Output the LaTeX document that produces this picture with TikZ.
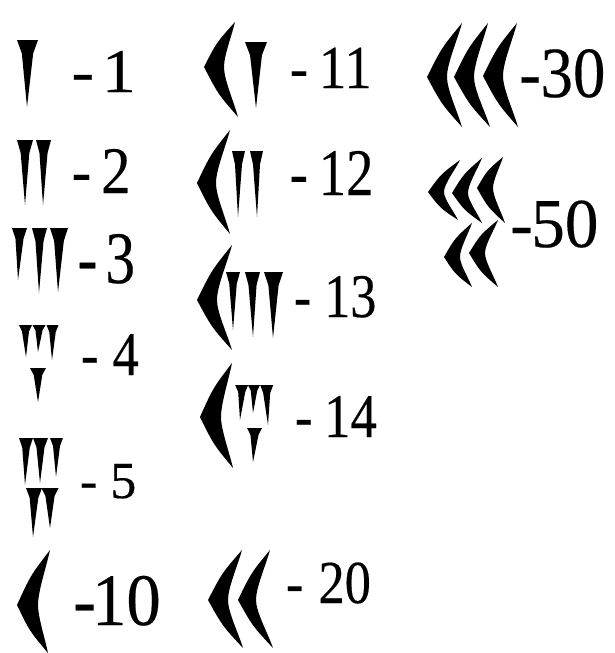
\documentclass[tikz,border=0pt]{standalone}
\usepackage{graphicx}
\usepackage{fontspec}
\setmainfont{Liberation Serif}[FakeBold=0.3]
% vertical wedge: top centre x, top y, width, tip x, tip y
\newcommand\cunV[5]{\fill ({#1-#3/2},#2) -- ({#1+#3/2},#2) -- ({#1+0.27*#3},{#2+0.2*(#5-#2)}) -- (#4,#5) -- ({#1-0.27*#3},{#2+0.2*(#5-#2)}) -- cycle;}
% corner wedge: left point (1,2), top tip (3,4), bottom tip (5,6), thickness 7
\newcommand\cunC[7]{\fill (#1,#2)
  .. controls ({(#1+#3)/2-3},{(#2+#4)/2-2}) .. (#3,#4)
  .. controls ({#3+0.33*(#1+#7-#3)},{#4+0.33*(#2-#4)}) and ({#1+#7},{#2-0.25*(#2-#4)}) .. ({#1+#7},#2)
  .. controls ({#1+#7},{#2+0.25*(#6-#2)}) and ({#5+0.33*(#1+#7-#5)},{#6-0.33*(#6-#2)}) .. (#5,#6)
  .. controls ({(#1+#5)/2-3},{(#2+#6)/2+2}) .. (#1,#2) -- cycle;}
% label: name, x, baseline, size, gap, xscale, number
\newcommand\numlab[7]{\node[lbl] (#1) at (#2,#3) {\scalebox{#6}[1]{\fontsize{#4}{#4}\selectfont -\hspace{#5pt}#7}};}
\begin{document}
\begin{tikzpicture}[x=1pt,y=-1pt,
  lbl/.style={anchor=base west,inner sep=0pt,outer sep=0pt,text=black}]
\fill[white] (0,0) rectangle (615,653);
\useasboundingbox (0,0) rectangle (615,653);
% 1
\cunV{27.5}{40}{21}{27}{107}
% 2
\cunV{25}{140}{16}{25}{205}
\cunV{43.5}{140}{15}{43}{205}
% 3
\cunV{19.5}{228}{15}{18}{280}
\cunV{39.5}{228}{15}{39}{293}
\cunV{59}{228}{18}{58}{292}
% 4
\cunV{25.5}{325}{13}{26}{357}
\cunV{39}{325}{13}{38}{352}
\cunV{52.5}{325}{12}{52}{360}
\cunV{38}{368}{16}{38}{402}
% 5
\cunV{26}{438}{14}{25}{485}
\cunV{40.5}{438}{15}{40}{483}
\cunV{56.5}{438}{13}{56}{477}
\cunV{34}{488}{16}{33}{537}
\cunV{50}{488}{17}{50}{528}
% 10
\cunC{17}{605}{50}{550}{48}{653}{21}
% 11
\cunC{204}{67}{235}{22}{238}{117}{20}
\cunV{256}{42}{22}{256}{108}
% 12
\cunC{197}{183}{230}{130}{230}{234}{19}
\cunV{238.5}{151}{13}{238}{217}
\cunV{256.5}{151}{13}{257}{217}
% 13
\cunC{197}{300}{232}{245}{232}{350}{20}
\cunV{233}{272}{14}{233}{330}
\cunV{252.5}{272}{15}{253}{337}
\cunV{273.5}{272}{19}{273}{338}
% 14
\cunC{200}{417}{232}{363}{233}{468}{21}
\cunV{241.7}{385}{13}{240}{420}
\cunV{254}{385}{12}{253}{413}
\cunV{266.7}{385}{13}{268}{425}
\cunV{254.5}{428}{15}{253}{462}
% 20
\cunC{208}{600}{242}{550}{243}{648}{20}
\cunC{238}{600}{270}{550}{273}{648}{18}
% 30
\cunC{427}{77}{462}{23}{462}{127}{20}
\cunC{454}{77}{488}{23}{490}{127}{20}
\cunC{483}{76}{517}{23}{518}{127}{20}
% 50
\cunC{428}{192}{460}{160}{458}{220}{16}
\cunC{452}{193}{482}{158}{482}{223}{16}
\cunC{477}{188}{503}{157}{505}{223}{16}
\cunC{444}{257}{472}{223}{472}{287}{16}
\cunC{469}{253}{498}{220}{498}{287}{16}
% labels
\numlab{l1}{71.5}{92}{62}{7}{1.1}{1}
\numlab{l2}{71.7}{193}{66.5}{11.5}{0.88}{2}
\numlab{l3}{77.6}{283}{74}{10.2}{0.8}{3}
\numlab{l4}{80.9}{375}{62}{16.5}{0.85}{4}
\numlab{l5}{80}{498}{52}{13}{1}{5}
\numlab{l10}{73.2}{625}{74}{-4.5}{0.93}{10}
\numlab{l11}{289.8}{88}{61}{12}{0.9}{11}
\numlab{l12}{289.8}{195}{66.5}{13.4}{0.82}{12}
\numlab{l13}{293.9}{317}{62}{15.5}{0.84}{13}
\numlab{l14}{294.9}{437}{62}{13.8}{0.85}{14}
\numlab{l20}{285.9}{603}{61}{17.6}{0.86}{20}
\numlab{l30}{519.4}{97}{72}{-0.5}{0.9}{30}
\numlab{l50}{510.3}{247}{70}{-1.5}{0.96}{50}
\end{tikzpicture}
\end{document}
